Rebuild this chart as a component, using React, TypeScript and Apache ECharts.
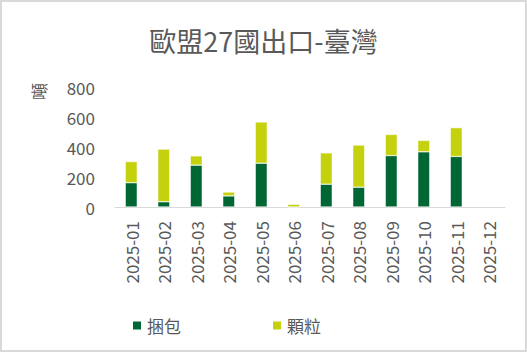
import React, { useEffect, useRef } from "react";
import * as echarts from "echarts";

const categories = [
  "2025-01", "2025-02", "2025-03", "2025-04", "2025-05", "2025-06",
  "2025-07", "2025-08", "2025-09", "2025-10", "2025-11", "2025-12",
];
const baleValues = [162, 35, 279, 74, 292, 0, 152, 132, 343, 368, 337, null];
const pelletValues = [141, 351, 62, 26, 275, 18, 209, 281, 141, 76, 192, null];
const seriesNames = ["捆包", "顆粒"];
const titleText = "歐盟27國出口-臺灣";
const yAxisName = "噸";

const FONT = "'Noto Sans CJK TC', 'Noto Sans', sans-serif";
const TEXT = "#595959";

export default function App() {
  const ref = useRef<HTMLDivElement>(null);
  useEffect(() => {
    if (!ref.current) return;
    const chart = echarts.init(ref.current, null, { renderer: "svg" });
    chart.setOption({
      animation: false,
      textStyle: { fontFamily: FONT },
      title: {
        text: titleText,
        left: "center",
        top: 22,
        textStyle: { fontSize: 27, fontWeight: "normal", color: TEXT, fontFamily: FONT },
      },
      legend: {
        left: 126,
        top: 312,
        itemWidth: 10,
        itemHeight: 10,
        itemGap: 90,
        icon: "rect",
        textStyle: { fontSize: 17, color: TEXT, fontFamily: FONT },
        data: seriesNames,
      },
      grid: { left: 115, right: 22, top: 87, height: 120 },
      xAxis: {
        type: "category",
        data: categories,
        axisLine: { show: true, lineStyle: { color: "#d9d9d9", width: 1 } },
        axisTick: { show: false },
        axisLabel: {
          rotate: 90,
          margin: 14,
          fontSize: 17,
          color: TEXT,
          fontFamily: FONT,
          interval: 0,
        },
      },
      yAxis: {
        type: "value",
        min: 0,
        max: 800,
        interval: 200,
        splitLine: { show: false },
        axisLine: { show: false },
        axisTick: { show: false },
        axisLabel: { fontSize: 17, color: TEXT, margin: 20, fontFamily: FONT },
      },
      graphic: [
        {
          type: "text",
          x: 30,
          y: 100,
          rotation: Math.PI / 2,
          style: { text: yAxisName, fontSize: 17, fill: TEXT, fontFamily: FONT },
        },
      ],
      series: [
        {
          name: seriesNames[0],
          type: "bar",
          stack: "total",
          data: baleValues,
          barWidth: 12,
          itemStyle: { color: "#006633", borderColor: "#ffffff", borderWidth: 0.5 },
        },
        {
          name: seriesNames[1],
          type: "bar",
          stack: "total",
          data: pelletValues,
          barWidth: 12,
          itemStyle: { color: "#c4d10c", borderColor: "#ffffff", borderWidth: 0.5 },
        },
      ],
    });
    return () => chart.dispose();
  }, []);
  return (
    <div
      style={{
        position: "fixed",
        left: 0,
        top: 0,
        width: 527,
        height: 352,
        boxSizing: "border-box",
        border: "2px solid #d9d9d9",
        background: "#fff",
      }}
    >
      <div ref={ref} style={{ position: "absolute", left: -2, top: -2, width: 527, height: 352 }} />
    </div>
  );
}
